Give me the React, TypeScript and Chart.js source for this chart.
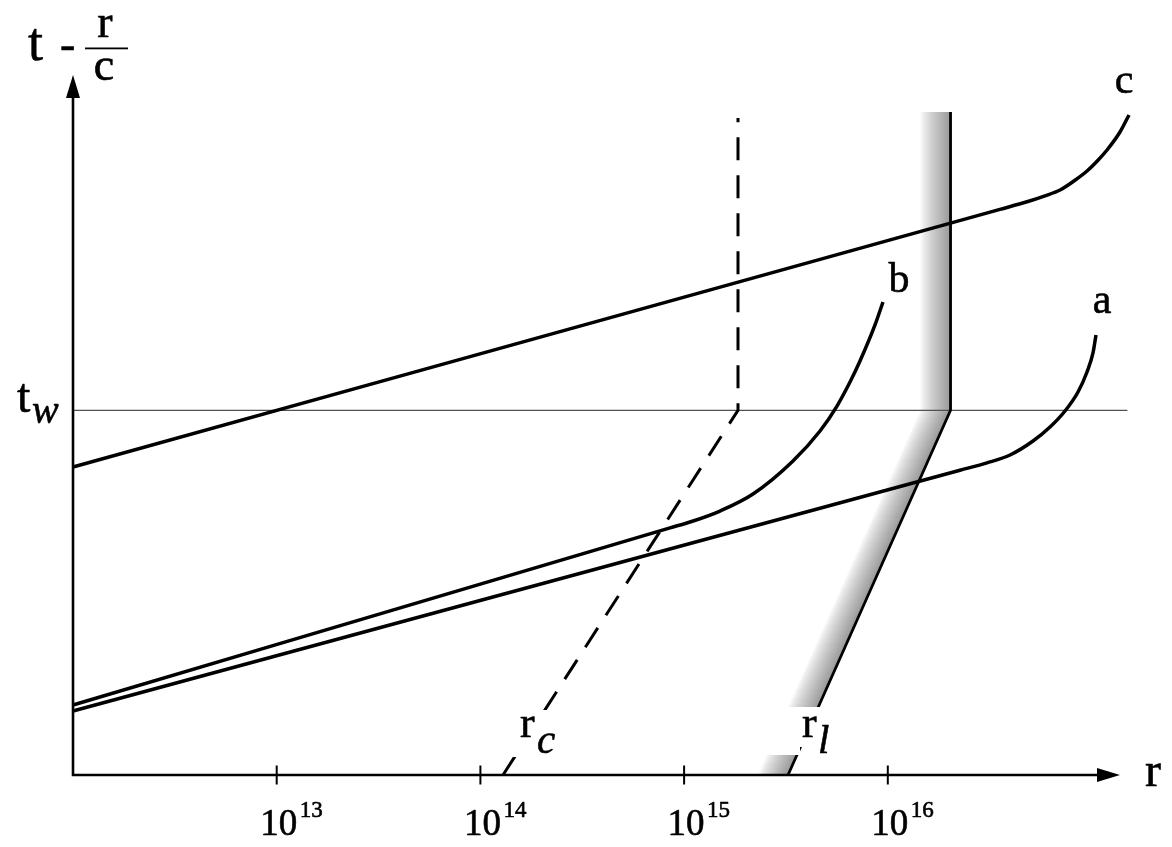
import React, { useEffect, useRef } from "react";
import { Chart, registerables } from "chart.js";

Chart.register(...registerables);

// ---- axis ranges (r in cm, log scale; t - r/c in arbitrary units) ----
const R_MIN = 1e12;
const R_MAX = 1.635e17;
const X_AXIS_END = 1.38e17; // arrow tip of the r axis
const T_MIN = 0;
const T_MAX = 100;
const TICK_EXPONENTS = [13, 14, 15, 16];

// ---- horizontal reference line t_w ----
const TW = 52.1;
const TW_R = [1e12, 1.5e17];

// ---- world lines a, b, c ----
const A_R = [1e12, 2.262e16, 3.069e16, 3.98e16, 5.162e16, 6.256e16, 7.413e16, 8.586e16, 9.504e16, 1.017e17, 1.052e17];
const A_T = [9.14, 43.54, 44.59, 45.71, 47.71, 49.71, 52.0, 54.71, 57.57, 60.29, 62.86];

const B_R = [1e12, 8.53e14, 1.069e15, 1.501e15, 2.179e15, 3.424e15, 4.648e15, 5.63e15, 6.523e15, 7.303e15, 8.654e15, 9.471e15];
const B_T = [10.0, 35.31, 36.14, 37.71, 40.14, 44.86, 49.14, 52.71, 56.14, 59.14, 64.29, 67.57];

const C_R = [1e12, 3.554e16, 4.825e16, 5.911e16, 7.004e16, 8.299e16, 9.504e16, 1.076e17, 1.192e17, 1.38e17, 1.528e17];
const C_T = [44.0, 80.81, 81.89, 82.74, 83.57, 84.97, 86.29, 87.83, 89.29, 91.86, 94.29];

// ---- radii r_c (dashed) and r_l (solid, shaded) ----
const RC_R = [1.291e14, 1.839e15, 1.839e15];
const RC_T = [0, 52.1, 93.86];
const RL_R = [3.237e15, 2.032e16, 2.032e16];
const RL_T = [0, 52.1, 94.71];

const SERIF = '"Liberation Serif", "Times New Roman", Times, serif';

function pts(xs: number[], ys: number[]) {
  return xs.map((x, i) => ({ x, y: ys[i] }));
}

function txt(ctx: CanvasRenderingContext2D, s: string, x: number, y: number, font: string, align: CanvasTextAlign = "left") {
  ctx.font = font;
  ctx.textAlign = align;
  ctx.textBaseline = "alphabetic";
  ctx.fillStyle = "#000";
  ctx.strokeStyle = "#000";
  ctx.lineWidth = 0.6;
  ctx.lineJoin = "round";
  ctx.fillText(s, x, y);
  ctx.strokeText(s, x, y);
}

const decor = {
  id: "decor",
  beforeDatasetsDraw(chart: any) {
    const idx = chart.data.datasets.findIndex((d: any) => d.label === "r_l");
    const meta = chart.getDatasetMeta(idx);
    const p = meta.data.map((e: any) => ({ x: e.x, y: e.y }));
    const ctx: CanvasRenderingContext2D = chart.ctx;
    const ca = chart.chartArea;
    ctx.save();
    ctx.beginPath();
    ctx.rect(ca.left, ca.top - 50, ca.right - ca.left, ca.bottom - ca.top + 50);
    ctx.clip();
    const W = 30;
    ctx.lineJoin = "miter";
    ctx.lineCap = "butt";
    for (let off = W; off >= 0; off -= 0.5) {
      const t = 1 - off / W;
      const g = Math.round(255 - 100 * Math.pow(t, 0.8));
      ctx.strokeStyle = `rgb(${g},${g},${g})`;
      ctx.lineWidth = 1.4;
      ctx.beginPath();
      p.forEach((q: any, i: number) => (i ? ctx.lineTo(q.x - off, q.y) : ctx.moveTo(q.x - off, q.y)));
      ctx.stroke();
    }
    ctx.restore();
  },
  afterDatasetsDraw(chart: any) {
    const ctx: CanvasRenderingContext2D = chart.ctx;
    const xs = chart.scales.x;
    const ys = chart.scales.y;
    const x0 = xs.getPixelForValue(R_MIN);
    const y0 = ys.getPixelForValue(T_MIN);
    const yTop = ys.getPixelForValue(T_MAX);
    const xEnd = xs.getPixelForValue(X_AXIS_END);
    ctx.save();

    // white boxes behind r_c and r_l labels
    const rcX = xs.getPixelForValue(RC_R[0]);
    const rlX = xs.getPixelForValue(RL_R[0]);
    ctx.fillStyle = "#fff";
    ctx.fillRect(rcX + 2, y0 - 65, 52, 47);
    ctx.fillRect(rlX - 32, y0 - 68, 44, 48);
    ctx.fillRect(rlX + 12, y0 - 68, 32, 40);

    // r_c, r_l labels
    txt(ctx, "r", rcX + 17, y0 - 38, `44px ${SERIF}`);
    txt(ctx, "c", rcX + 34, y0 - 22, `italic 41px ${SERIF}`);
    txt(ctx, "r", rlX + 14, y0 - 38, `44px ${SERIF}`);
    txt(ctx, "l", rlX + 30, y0 - 22, `italic 41px ${SERIF}`);

    // curve labels
    const endOf = (R: number[], T: number[]) => ({
      x: xs.getPixelForValue(R[R.length - 1]),
      y: ys.getPixelForValue(T[T.length - 1]),
    });
    const ea = endOf(A_R, A_T);
    const eb = endOf(B_R, B_T);
    const ec = endOf(C_R, C_T);
    txt(ctx, "a", ea.x + 6, ea.y - 22, `42px ${SERIF}`, "center");
    txt(ctx, "b", eb.x + 16, eb.y - 10, `42px ${SERIF}`, "center");
    txt(ctx, "c", ec.x - 5, ec.y - 22, `42px ${SERIF}`, "center");

    // t_w label
    const twY = ys.getPixelForValue(TW);
    txt(ctx, "t", x0 - 56, twY + 1.5, `48px ${SERIF}`);
    txt(ctx, "w", x0 - 41, twY + 12.5, `italic 40px ${SERIF}`);

    // axes
    ctx.strokeStyle = "#000";
    ctx.fillStyle = "#000";
    ctx.lineWidth = 2.6;
    ctx.lineCap = "butt";
    ctx.beginPath();
    ctx.moveTo(x0, y0 + 1.3);
    ctx.lineTo(x0, yTop + 20);
    ctx.moveTo(x0 - 1.3, y0);
    ctx.lineTo(xEnd - 20, y0);
    ctx.stroke();
    // arrow heads
    ctx.beginPath();
    ctx.moveTo(x0, yTop);
    ctx.lineTo(x0 - 7, yTop + 23);
    ctx.lineTo(x0 + 7, yTop + 23);
    ctx.closePath();
    ctx.fill();
    ctx.beginPath();
    ctx.moveTo(xEnd, y0);
    ctx.lineTo(xEnd - 23, y0 - 7);
    ctx.lineTo(xEnd - 23, y0 + 7);
    ctx.closePath();
    ctx.fill();

    // ticks and labels
    TICK_EXPONENTS.forEach((e) => {
      const px = xs.getPixelForValue(Math.pow(10, e));
      ctx.strokeStyle = "#000";
      ctx.lineWidth = 2;
      ctx.beginPath();
      ctx.moveTo(px, y0 - 9.5);
      ctx.lineTo(px, y0 + 9.5);
      ctx.stroke();
      ctx.font = `37px ${SERIF}`;
      const w = ctx.measureText("10").width;
      const cx = px + 2;
      txt(ctx, "10", cx, y0 + 60, `37px ${SERIF}`, "center");
      txt(ctx, String(e), cx + w / 2 + 2.5, y0 + 42, `23px ${SERIF}`, "left");
    });

    // axis titles
    txt(ctx, "r", xEnd + 25, y0 + 10.5, `48px ${SERIF}`);
    txt(ctx, "t", x0 - 45, 60, `54px ${SERIF}`);
    txt(ctx, "-", x0 - 13, 59, `46px ${SERIF}`);
    ctx.fillStyle = "#000";
    ctx.fillRect(x0 + 12, yTop - 27.5, 43, 1.8);
    txt(ctx, "r", x0 + 32, yTop - 38, `46px ${SERIF}`, "center");
    txt(ctx, "c", x0 + 31, yTop + 5, `46px ${SERIF}`, "center");

    ctx.restore();
  },
};

export default function App() {
  const ref = useRef<HTMLCanvasElement | null>(null);

  useEffect(() => {
    if (!ref.current) return;
    const line = (label: string, xs: number[], ys: number[], extra: any = {}) => ({
      label,
      data: pts(xs, ys),
      showLine: true,
      pointRadius: 0,
      pointHoverRadius: 0,
      borderColor: "#000",
      backgroundColor: "#000",
      borderWidth: 3.5,
      fill: false,
      clip: false,
      ...extra,
    });
    const chart = new Chart(ref.current, {
      type: "scatter",
      data: {
        datasets: [
          line("a", A_R, A_T, { cubicInterpolationMode: "monotone" }),
          line("b", B_R, B_T, { cubicInterpolationMode: "monotone" }),
          line("c", C_R, C_T, { cubicInterpolationMode: "monotone" }),
          line("r_c", RC_R, RC_T, { borderWidth: 3, borderDash: [23, 15], borderJoinStyle: "miter" }),
          line("r_l", RL_R, RL_T, { borderWidth: 2.8, borderJoinStyle: "miter" }),
          line("t_w", TW_R, [TW, TW], { borderWidth: 1.2, borderColor: "#505050" }),
        ],
      },
      options: {
        animation: false,
        responsive: true,
        maintainAspectRatio: false,
        events: [],
        layout: { padding: { left: 73, right: 37, top: 75, bottom: 72 } },
        plugins: { legend: { display: false }, tooltip: { enabled: false } },
        scales: {
          x: { type: "logarithmic", min: R_MIN, max: R_MAX, display: false },
          y: { type: "linear", min: T_MIN, max: T_MAX, display: false },
        },
      },
      plugins: [decor],
    });
    return () => chart.destroy();
  }, []);

  return (
    <div style={{ position: "fixed", left: 0, top: 0, width: 1172, height: 847, background: "#fff" }}>
      <canvas ref={ref} />
    </div>
  );
}
